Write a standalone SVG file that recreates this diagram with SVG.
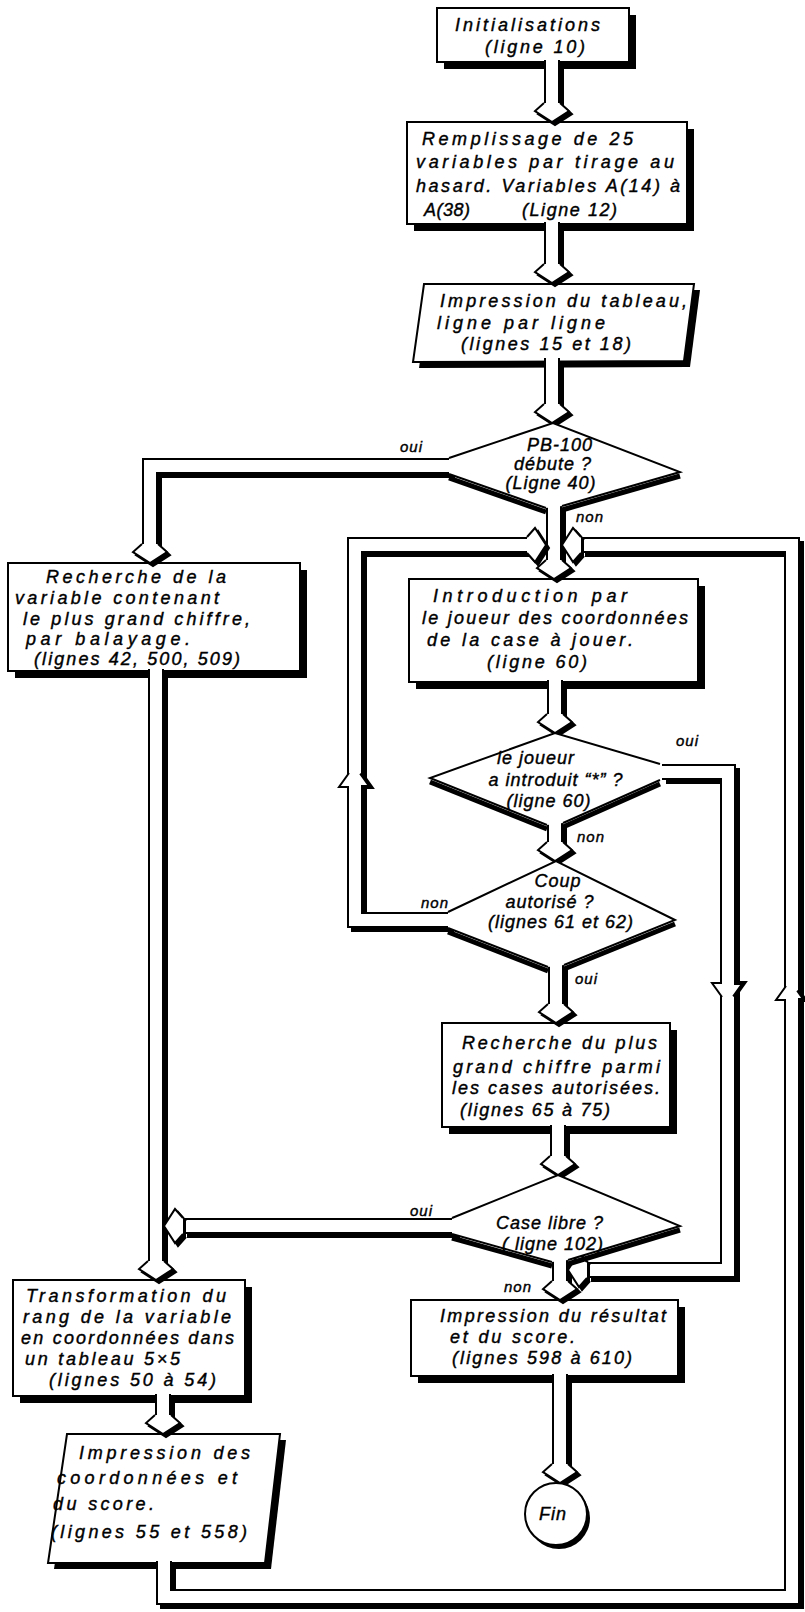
<svg xmlns="http://www.w3.org/2000/svg" xmlns:xlink="http://www.w3.org/1999/xlink" width="805" height="1612" viewBox="0 0 805 1612">
<style>
text{font-family:"Liberation Sans","DejaVu Sans",sans-serif;font-style:italic;font-size:18px;fill:#000;stroke:#000;stroke-width:0.4px}
.lbl{font-size:15px;letter-spacing:1px}
.dt{text-anchor:middle;letter-spacing:1px}
.box{fill:#fff;stroke:#000;stroke-width:2}
.shd{fill:#000;stroke:none}
.dfill{fill:#fff;stroke:none}
.edge{fill:none;stroke:#000;stroke-width:2;stroke-linejoin:miter}
.eshd{fill:none;stroke:#000;stroke-width:5}
.pso use,.pol use{fill:none;stroke:#000;stroke-width:16;stroke-linejoin:miter}
.pin use{fill:none;stroke:#fff;stroke-width:12;stroke-linejoin:miter}
.ash{fill:#000;stroke:#000;stroke-width:2}
.ah{fill:#fff;stroke:#000;stroke-width:2;stroke-linejoin:miter}
.barb{fill:#fff;stroke:#000;stroke-width:2}
.barbk{fill:#fff;stroke:#000;stroke-width:4}
</style>
<defs>
<path id="c1" d="M552,60 V103"/>
<path id="c2" d="M552,222 V264"/>
<path id="c3" d="M552,358 V404"/>
<path id="c4" d="M451,466 H150 V544"/>
<path id="c5" d="M554,504 V560"/>
<path id="cL" d="M450,920 H355 V545 H527"/>
<path id="c8" d="M164,1561 V1597 H792 V545 H581"/>
<path id="c6" d="M156,669 V1261"/>
<path id="c7" d="M163,1394 V1415"/>
<path id="c9" d="M555,680 V714"/>
<path id="cO" d="M662,772 H728 V1270 H587"/>
<path id="c10" d="M555,821 V842"/>
<path id="c11" d="M556,963 V1004"/>
<path id="c12" d="M558,1125 V1156"/>
<path id="c13" d="M456,1226 H183"/>
<path id="c14" d="M560,1258 V1281"/>
<path id="c15" d="M560,1374 V1464"/>
<path id="ahd" d="M-8,-19 L-17,-11 L0,0 L17,-11 L8,-19"/>
<path id="ahl" d="M19,-8 L11,-17 L0,0 L11,17 L19,8"/>
<path id="ahr" d="M-19,-8 L-11,-17 L0,0 L-11,17 L-19,8"/>
</defs>

<g id="n-init">
<rect class="shd" x="444" y="15" width="192" height="54"/>
<rect class="box" x="437" y="8" width="192" height="54"/>
<text x="455" y="31" textLength="145" lengthAdjust="spacing">Initialisations</text>
<text x="485" y="53" textLength="100" lengthAdjust="spacing">(ligne 10)</text>
</g>
<g id="n-remplissage">
<rect class="shd" x="414" y="129" width="280" height="102"/>
<rect class="box" x="407" y="122" width="280" height="102"/>
<text x="422" y="145" textLength="211" lengthAdjust="spacing">Remplissage de 25</text>
<text x="416" y="168" textLength="258" lengthAdjust="spacing">variables par tirage au</text>
<text x="416" y="192" textLength="264" lengthAdjust="spacing">hasard. Variables A(14) à</text>
<text x="424" y="216" textLength="46" lengthAdjust="spacing">A(38)</text>
<text x="522" y="216" textLength="95" lengthAdjust="spacing">(Ligne 12)</text>
</g>
<g id="n-impression-tableau">
<polygon class="shd" points="430,290 700,290 690,367 419,368"/>
<polygon class="box" points="424,284 694,284 684,361 413,362"/>
<text x="440" y="307" textLength="247" lengthAdjust="spacing">Impression du tableau,</text>
<text x="437" y="329" textLength="168" lengthAdjust="spacing">ligne par ligne</text>
<text x="461" y="350" textLength="170" lengthAdjust="spacing">(lignes 15 et 18)</text>
</g>
<g id="n-recherche-variable">
<rect class="shd" x="15" y="570" width="292" height="108"/>
<rect class="box" x="8" y="563" width="292" height="108"/>
<text x="46" y="583" textLength="180" lengthAdjust="spacing">Recherche de la</text>
<text x="15" y="604" textLength="204" lengthAdjust="spacing">variable contenant</text>
<text x="23" y="625" textLength="227" lengthAdjust="spacing">le plus grand chiffre,</text>
<text x="26" y="645" textLength="164" lengthAdjust="spacing">par balayage.</text>
<text x="34" y="665" textLength="206" lengthAdjust="spacing">(lignes 42, 500, 509)</text>
</g>
<g id="n-introduction">
<rect class="shd" x="416" y="586" width="289" height="103"/>
<rect class="box" x="409" y="579" width="289" height="103"/>
<text x="433" y="602" textLength="194" lengthAdjust="spacing">Introduction  par</text>
<text x="422" y="624" textLength="266" lengthAdjust="spacing">le joueur des coordonnées</text>
<text x="427" y="646" textLength="206" lengthAdjust="spacing">de la case à jouer.</text>
<text x="487" y="668" textLength="100" lengthAdjust="spacing">(ligne 60)</text>
</g>
<g id="n-recherche-chiffre">
<rect class="shd" x="449" y="1030" width="228" height="104"/>
<rect class="box" x="442" y="1023" width="228" height="104"/>
<text x="462" y="1049" textLength="195" lengthAdjust="spacing">Recherche du plus</text>
<text x="453" y="1073" textLength="207" lengthAdjust="spacing">grand chiffre parmi</text>
<text x="452" y="1094" textLength="208" lengthAdjust="spacing">les cases autorisées.</text>
<text x="460" y="1116" textLength="150" lengthAdjust="spacing">(lignes 65 à 75)</text>
</g>
<g id="n-transformation">
<rect class="shd" x="20" y="1287" width="232" height="116"/>
<rect class="box" x="13" y="1280" width="232" height="116"/>
<text x="26" y="1302" textLength="200" lengthAdjust="spacing">Transformation du</text>
<text x="23" y="1323" textLength="208" lengthAdjust="spacing">rang de la variable</text>
<text x="21" y="1344" textLength="213" lengthAdjust="spacing">en coordonnées dans</text>
<text x="25" y="1365" textLength="155" lengthAdjust="spacing">un tableau 5×5</text>
<text x="49" y="1386" textLength="167" lengthAdjust="spacing">(lignes 50 à 54)</text>
</g>
<g id="n-impression-coord">
<polygon class="shd" points="73,1440 286,1440 271,1569 54,1569"/>
<polygon class="box" points="67,1434 280,1434 265,1563 48,1563"/>
<text x="79" y="1459" textLength="171" lengthAdjust="spacing">Impression des</text>
<text x="57" y="1484" textLength="180" lengthAdjust="spacing">coordonnées et</text>
<text x="53" y="1510" textLength="101" lengthAdjust="spacing">du score.</text>
<text x="51" y="1538" textLength="196" lengthAdjust="spacing">(lignes 55 et 558)</text>
</g>
<g id="n-resultat">
<rect class="shd" x="418" y="1307" width="267" height="76"/>
<rect class="box" x="411" y="1300" width="267" height="76"/>
<text x="440" y="1322" textLength="226" lengthAdjust="spacing">Impression du résultat</text>
<text x="450" y="1343" textLength="125" lengthAdjust="spacing">et du score.</text>
<text x="452" y="1364" textLength="180" lengthAdjust="spacing">(lignes 598 à 610)</text>
</g>

<g id="connectors">
<g class="pso" transform="translate(4,4)">
<use xlink:href="#c1"/><use xlink:href="#c2"/><use xlink:href="#c3"/><use xlink:href="#c4"/><use xlink:href="#c5"/><use xlink:href="#cL"/><use xlink:href="#c8"/><use xlink:href="#c6"/><use xlink:href="#c7"/><use xlink:href="#c9"/><use xlink:href="#cO"/><use xlink:href="#c10"/><use xlink:href="#c11"/><use xlink:href="#c12"/><use xlink:href="#c13"/><use xlink:href="#c14"/><use xlink:href="#c15"/>
</g>
<g class="pol">
<use xlink:href="#c1"/><use xlink:href="#c2"/><use xlink:href="#c3"/><use xlink:href="#c4"/><use xlink:href="#c5"/><use xlink:href="#cL"/><use xlink:href="#c8"/><use xlink:href="#c6"/><use xlink:href="#c7"/><use xlink:href="#c9"/><use xlink:href="#cO"/><use xlink:href="#c10"/><use xlink:href="#c11"/><use xlink:href="#c12"/><use xlink:href="#c13"/><use xlink:href="#c14"/><use xlink:href="#c15"/>
</g>
<g class="pin">
<use xlink:href="#c1"/><use xlink:href="#c2"/><use xlink:href="#c3"/><use xlink:href="#c4"/><use xlink:href="#c5"/><use xlink:href="#cL"/><use xlink:href="#c8"/><use xlink:href="#c6"/><use xlink:href="#c7"/><use xlink:href="#c9"/><use xlink:href="#cO"/><use xlink:href="#c10"/><use xlink:href="#c11"/><use xlink:href="#c12"/><use xlink:href="#c13"/><use xlink:href="#c14"/><use xlink:href="#c15"/>
</g>
<g class="ash">
<use xlink:href="#ahd" x="555" y="125"/><use xlink:href="#ahd" x="555" y="286"/><use xlink:href="#ahd" x="555" y="426"/><use xlink:href="#ahd" x="153" y="566"/><use xlink:href="#ahd" x="557" y="582"/><use xlink:href="#ahd" x="159" y="1283"/><use xlink:href="#ahd" x="166" y="1437"/><use xlink:href="#ahd" x="558" y="736"/><use xlink:href="#ahd" x="558" y="864"/><use xlink:href="#ahd" x="559" y="1026"/><use xlink:href="#ahd" x="561" y="1178"/><use xlink:href="#ahd" x="563" y="1303"/><use xlink:href="#ahd" x="563" y="1486"/>
<use xlink:href="#ahl" x="565" y="548"/><use xlink:href="#ahl" x="571" y="1273"/><use xlink:href="#ahl" x="167" y="1229"/><use xlink:href="#ahr" x="549" y="548"/>
</g>
<g class="ah">
<use xlink:href="#ahd" x="552" y="122"/><use xlink:href="#ahd" x="552" y="283"/><use xlink:href="#ahd" x="552" y="423"/><use xlink:href="#ahd" x="150" y="563"/><use xlink:href="#ahd" x="554" y="579"/><use xlink:href="#ahd" x="156" y="1280"/><use xlink:href="#ahd" x="163" y="1434"/><use xlink:href="#ahd" x="555" y="733"/><use xlink:href="#ahd" x="555" y="861"/><use xlink:href="#ahd" x="556" y="1023"/><use xlink:href="#ahd" x="558" y="1175"/><use xlink:href="#ahd" x="560" y="1300"/><use xlink:href="#ahd" x="560" y="1483"/>
<use xlink:href="#ahl" x="562" y="545"/><use xlink:href="#ahl" x="568" y="1270"/><use xlink:href="#ahl" x="164" y="1226"/><use xlink:href="#ahr" x="546" y="545"/>
</g>
<g>
<path class="barb" d="M349,787 L339,787 L349,773"/>
<path class="barbk" d="M361,787 L371,787 L361,773"/>
<path class="barb" d="M722,983 L712,983 L722,997"/>
<path class="barbk" d="M734,983 L744,983 L734,997"/>
<path class="barb" d="M786,1000 L776,1000 L786,986"/>
<path class="barbk" d="M798,1000 L805,1000 L798,990"/>
</g>
<g class="lbls">
<text class="lbl" x="400" y="452">oui</text>
<text class="lbl" x="576" y="522">non</text>
<text class="lbl" x="676" y="746">oui</text>
<text class="lbl" x="577" y="842">non</text>
<text class="lbl" x="421" y="908">non</text>
<text class="lbl" x="575" y="984">oui</text>
<text class="lbl" x="410" y="1216">oui</text>
<text class="lbl" x="504" y="1292">non</text>
</g>
</g>

<g id="d-debute">
<polyline class="eshd" points="449,478 546,512"/>
<polyline class="eshd" points="680,476 562,510"/>
<polygon class="dfill" points="553,423 680,472 562,506 546,508 449,474 449,458"/>
<polyline class="edge" points="449,458 553,423 680,472 562,506"/>
<polyline class="edge" points="546,508 449,474"/>
<text class="dt" x="560" y="451">PB-100</text>
<text class="dt" x="553" y="470">débute ?</text>
<text class="dt" x="551" y="489">(Ligne 40)</text>
</g>
<g id="d-joueur">
<polyline class="eshd" points="430,782 547,829"/>
<polyline class="eshd" points="660,784 563,827"/>
<polygon class="dfill" points="555,733 660,764 660,780 563,823 547,825 430,778"/>
<polyline class="edge" points="660,780 563,823"/>
<polyline class="edge" points="547,825 430,778 555,733 660,764"/>
<text class="dt" x="536" y="764">le joueur</text>
<text class="dt" x="556" y="786">a introduit “*” ?</text>
<text class="dt" x="549" y="807">(ligne 60)</text>
</g>
<g id="d-coup">
<polyline class="eshd" points="448,932 548,971"/>
<polyline class="eshd" points="675,924 564,969"/>
<polygon class="dfill" points="556,861 675,920 564,965 548,967 448,928 448,912"/>
<polyline class="edge" points="448,912 556,861 675,920 564,965"/>
<polyline class="edge" points="548,967 448,928"/>
<text class="dt" x="558" y="887">Coup</text>
<text class="dt" x="550" y="908">autorisé ?</text>
<text class="dt" x="561" y="928">(lignes 61 et 62)</text>
</g>
<g id="d-caselibre">
<polyline class="eshd" points="452,1238 552,1266"/>
<polyline class="eshd" points="680,1230 568,1264"/>
<polygon class="dfill" points="558,1175 680,1226 568,1260 552,1262 452,1234 452,1218"/>
<polyline class="edge" points="452,1218 558,1175 680,1226 568,1260"/>
<polyline class="edge" points="552,1262 452,1234"/>
<text class="dt" x="550" y="1229">Case libre ?</text>
<text class="dt" x="553" y="1250">( ligne 102)</text>
</g>
<g id="n-fin">
<circle class="shd" cx="559" cy="1518" r="31"/>
<circle class="box" cx="556" cy="1514" r="31"/>
<text class="dt" x="553" y="1520">Fin</text>
</g>
</svg>
